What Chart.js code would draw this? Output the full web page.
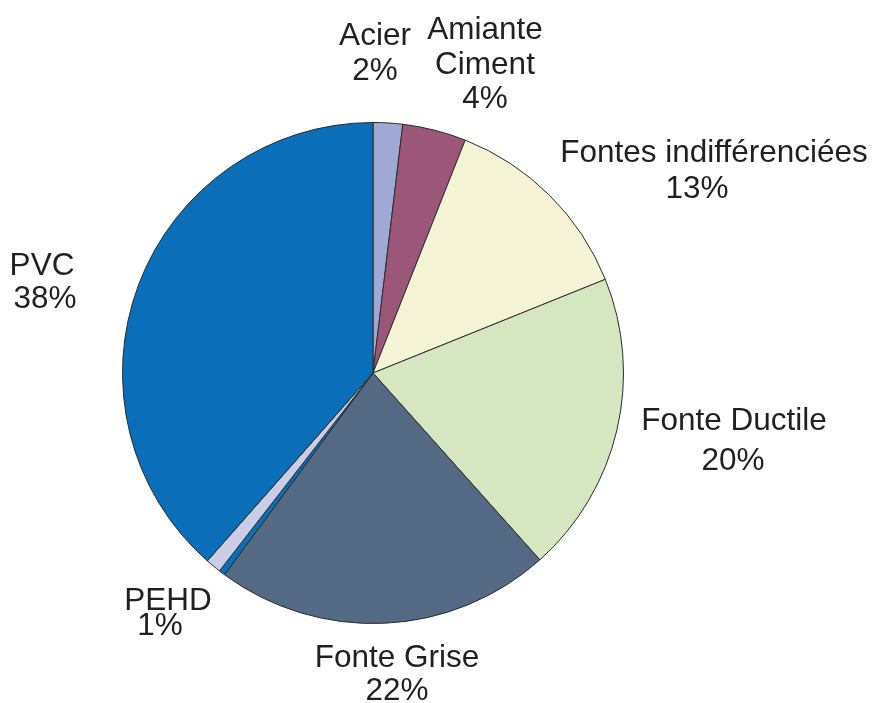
<!DOCTYPE html>
<html>
<head>
<meta charset="utf-8">
<script src="https://cdn.jsdelivr.net/npm/chart.js@4.4.1/dist/chart.umd.min.js"></script>
<style>
  html, body { margin: 0; padding: 0; background: #fff; }
  #wrap { width: 875px; height: 703px; }
</style>
</head>
<body>
<div id="wrap"><canvas id="myChartPie" width="875" height="703"></canvas></div>
<script>
(function(){

    'use strict'

    // matériaux, sens horaire depuis le haut
    var categories = ['Acier', 'Amiante Ciment', 'Fontes indifférenciées', 'Fonte Ductile', 'Fonte Grise', 'Autre', 'PEHD', 'PVC'];
    var valeurs    = [1.9, 4.1, 12.9, 19.5, 21.7, 0.4, 1.0, 38.5];
    var etiquettes = [['Acier', '2%'], ['Amiante', 'Ciment', '4%'], ['Fontes indifférenciées', '13%'], ['Fonte Ductile', '20%'], ['Fonte Grise', '22%'], [], ['PEHD', '1%'], ['PVC', '38%']];
    var couleurs   = ['#a0a9d6', '#9c5679', '#f4f3d6', '#d5e6c1', '#536984', '#0a6fb8', '#c9cde8', '#0a6fb8'];

    // position des lignes de texte (x, y) pour chaque étiquette
    var positions = [
        [[375, 36], [375, 71]],
        [[485, 30], [485, 65], [485, 99]],
        [[714, 153], [697, 189]],
        [[734, 421], [733, 461]],
        [[397, 658], [397, 691]],
        [],
        [[168, 601], [160, 626]],
        [[42, 266], [45, 299]]
    ];

    var pluginEtiquettes = {
        id: 'etiquettes',
        afterDraw: function(chart) {
            var ctx = chart.ctx;
            ctx.save();
            ctx.fillStyle = '#231f20';
            ctx.font = '31.5px "Liberation Sans", Arial, sans-serif';
            ctx.textAlign = 'center';
            ctx.textBaseline = 'middle';
            for (var i = 0; i < etiquettes.length; i++) {
                for (var j = 0; j < etiquettes[i].length; j++) {
                    ctx.fillText(etiquettes[i][j], positions[i][j][0], positions[i][j][1]);
                }
            }
            ctx.restore();
        }
    };

    var ctx = document.getElementById('myChartPie').getContext('2d');

    new Chart(ctx, {
        type: 'pie',
        data: {
            labels: categories,
            datasets: [{
                data: valeurs,
                backgroundColor: couleurs,
                borderColor: '#2b2b2b',
                borderWidth: 1
            }]
        },
        options: {
            responsive: false,
            animation: false,
            layout: {
                padding: { left: 122, top: 122, right: 251, bottom: 79 }
            },
            plugins: {
                legend: { display: false },
                tooltip: { enabled: false }
            }
        },
        plugins: [pluginEtiquettes]
    });

})();
</script>
</body>
</html>
